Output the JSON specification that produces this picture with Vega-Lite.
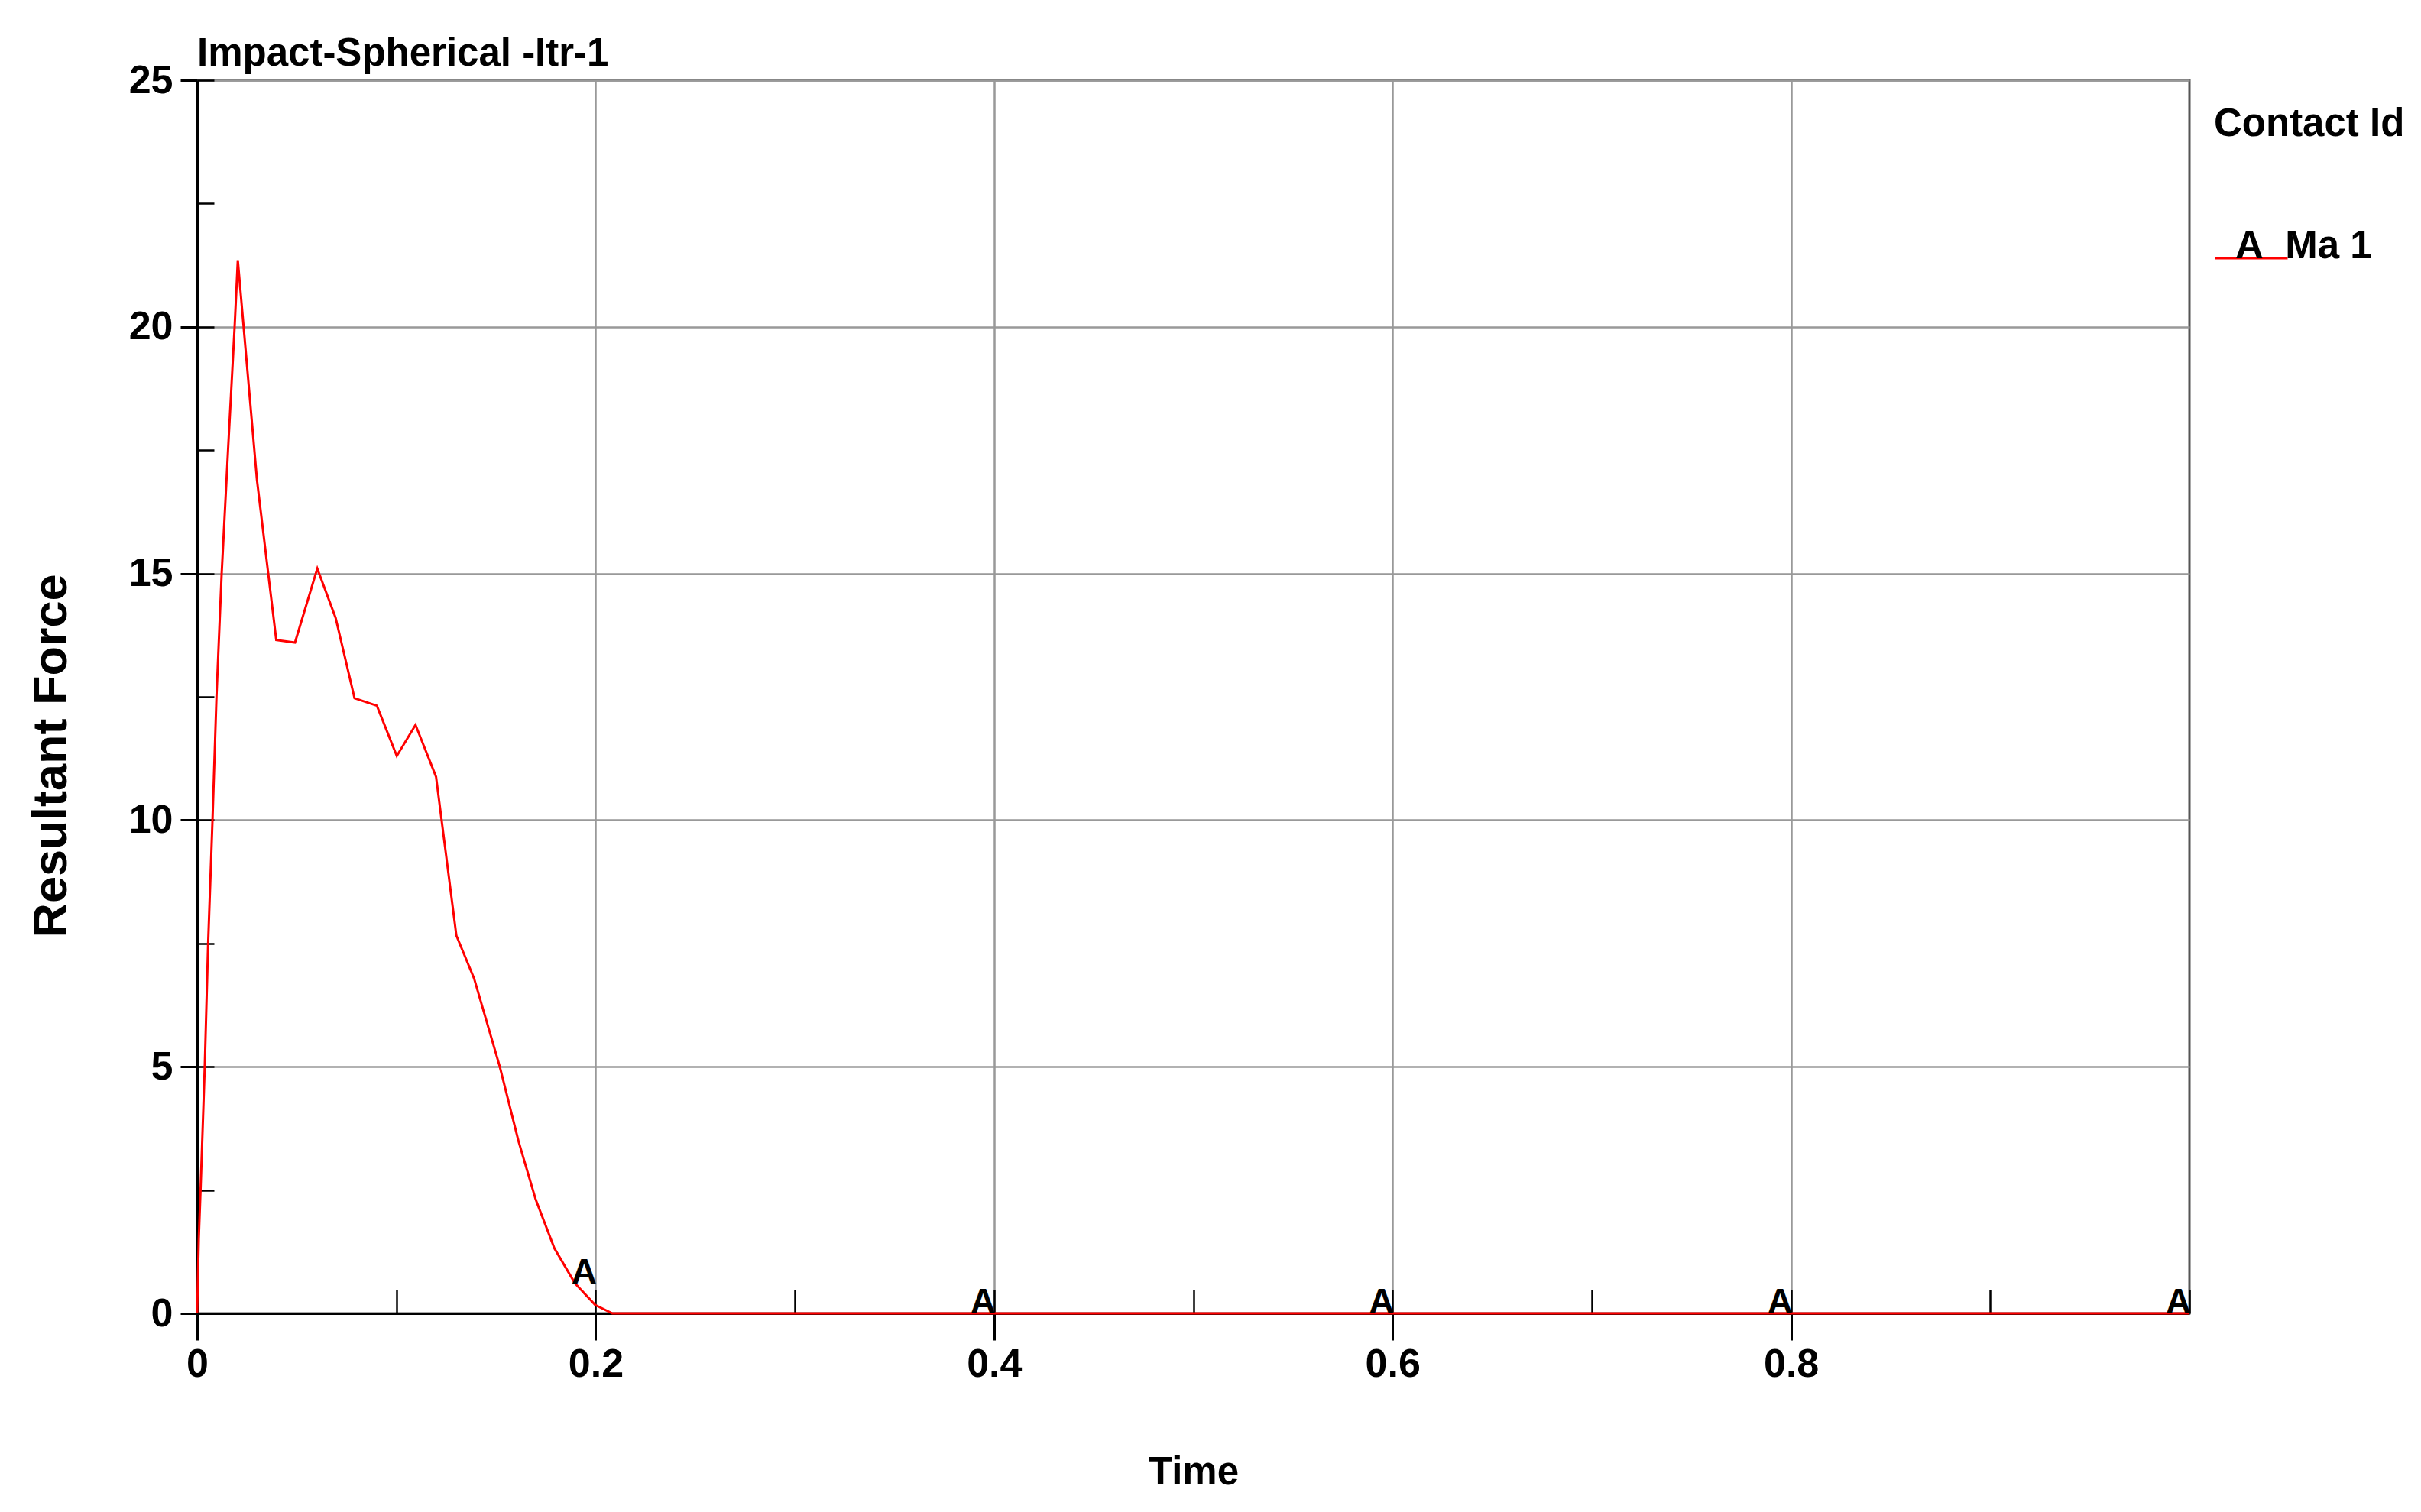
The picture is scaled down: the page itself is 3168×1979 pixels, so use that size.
{
  "$schema": "https://vega.github.io/schema/vega-lite/v6.json",
  "width": 2607,
  "height": 1614,
  "autosize": {"type": "none"},
  "padding": {"left": 258, "top": 105, "right": 303, "bottom": 260},
  "background": "white",
  "config": {
    "view": {"stroke": "#555555", "strokeWidth": 3},
    "font": "Liberation Sans, sans-serif"
  },
  "title": {
    "text": "Impact-Spherical -Itr-1",
    "anchor": "start",
    "frame": "group",
    "font": "Liberation Sans, sans-serif",
    "fontSize": 51,
    "fontWeight": "bold",
    "color": "black",
    "baseline": "alphabetic",
    "offset": -58
  },
  "datasets": {
    "curve": [
      {"t": 0, "F": 0, "contact": "Ma 1"},
      {"t": 0.0003, "F": 0.6, "contact": "Ma 1"},
      {"t": 0.0008, "F": 1.5, "contact": "Ma 1"},
      {"t": 0.0017, "F": 2.5, "contact": "Ma 1"},
      {"t": 0.0028, "F": 3.8, "contact": "Ma 1"},
      {"t": 0.0038, "F": 5.0, "contact": "Ma 1"},
      {"t": 0.0055, "F": 7.5, "contact": "Ma 1"},
      {"t": 0.0077, "F": 10.0, "contact": "Ma 1"},
      {"t": 0.0097, "F": 12.5, "contact": "Ma 1"},
      {"t": 0.0123, "F": 15.0, "contact": "Ma 1"},
      {"t": 0.0155, "F": 17.5, "contact": "Ma 1"},
      {"t": 0.0188, "F": 20.0, "contact": "Ma 1"},
      {"t": 0.0204, "F": 21.35, "contact": "Ma 1"},
      {"t": 0.03, "F": 16.9, "contact": "Ma 1"},
      {"t": 0.0397, "F": 13.65, "contact": "Ma 1"},
      {"t": 0.0491, "F": 13.6, "contact": "Ma 1"},
      {"t": 0.0603, "F": 15.1, "contact": "Ma 1"},
      {"t": 0.0695, "F": 14.1, "contact": "Ma 1"},
      {"t": 0.079, "F": 12.47, "contact": "Ma 1"},
      {"t": 0.0902, "F": 12.32, "contact": "Ma 1"},
      {"t": 0.1002, "F": 11.3, "contact": "Ma 1"},
      {"t": 0.1096, "F": 11.93, "contact": "Ma 1"},
      {"t": 0.1199, "F": 10.88, "contact": "Ma 1"},
      {"t": 0.1301, "F": 7.66, "contact": "Ma 1"},
      {"t": 0.139, "F": 6.79, "contact": "Ma 1"},
      {"t": 0.1519, "F": 5.0, "contact": "Ma 1"},
      {"t": 0.1613, "F": 3.49, "contact": "Ma 1"},
      {"t": 0.1699, "F": 2.31, "contact": "Ma 1"},
      {"t": 0.1793, "F": 1.32, "contact": "Ma 1"},
      {"t": 0.1896, "F": 0.61, "contact": "Ma 1"},
      {"t": 0.1998, "F": 0.17, "contact": "Ma 1"},
      {"t": 0.2084, "F": 0, "contact": "Ma 1"},
      {"t": 1.0, "F": 0, "contact": "Ma 1"}
    ],
    "markers": [
      {"t": 0.1942, "F": 0.6, "label": "A"},
      {"t": 0.3945, "F": 0, "label": "A"},
      {"t": 0.5945, "F": 0, "label": "A"},
      {"t": 0.7945, "F": 0, "label": "A"},
      {"t": 0.9945, "F": 0, "label": "A"}
    ]
  },
  "layer": [
    {
      "data": {"name": "curve"},
      "mark": {"type": "line", "strokeWidth": 3},
      "encoding": {
        "x": {
          "field": "t", "type": "quantitative",
          "scale": {"domain": [0, 1], "nice": false, "zero": false},
          "axis": {
            "orient": "bottom",
            "values": [0, 0.2, 0.4, 0.6, 0.8],
            "format": "~g",
            "tickSize": 35, "tickWidth": 3, "tickColor": "black",
            "domainColor": "black", "domainWidth": 3,
            "grid": true, "gridColor": "#999999", "gridWidth": 2.5,
            "labelFont": "Liberation Sans, sans-serif",
            "labelFontSize": 52, "labelFontWeight": "bold", "labelColor": "black",
            "labelPadding": 6, "labelFlush": false, "labelOverlap": false,
            "title": "Time",
            "titleFont": "Liberation Sans, sans-serif",
            "titleFontSize": 51, "titleFontWeight": "bold", "titleColor": "black",
            "titleBaseline": "alphabetic", "titleY": 223
          }
        },
        "y": {
          "field": "F", "type": "quantitative",
          "scale": {"domain": [0, 25], "nice": false},
          "axis": {
            "orient": "left",
            "values": [0, 5, 10, 15, 20, 25],
            "tickSize": 22, "tickWidth": 3, "tickColor": "black",
            "domainColor": "black", "domainWidth": 3,
            "grid": true, "gridColor": "#999999", "gridWidth": 2.5,
            "labelFont": "Liberation Sans, sans-serif",
            "labelFontSize": 52, "labelFontWeight": "bold", "labelColor": "black",
            "labelPadding": 10, "labelOverlap": false,
            "title": "Resultant Force",
            "titleFont": "Liberation Sans, sans-serif",
            "titleFontSize": 63, "titleFontWeight": "bold", "titleColor": "black",
            "titleAngle": -90, "titleAlign": "center", "titleBaseline": "middle",
            "titleX": -191, "titleY": 884
          }
        },
        "color": {
          "field": "contact", "type": "nominal",
          "scale": {"domain": ["Ma 1"], "range": ["#ff0000"]},
          "legend": {
            "title": "Contact Id",
            "orient": "right",
            "offset": -7,
            "padding": 33,
            "symbolType": "stroke",
            "symbolSize": 9025,
            "symbolStrokeWidth": 3,
            "labelExpr": "'A\u00a0\u00a0' + datum.label",
            "labelFont": "Liberation Sans, sans-serif",
            "labelFontSize": 51, "labelFontWeight": "bold", "labelColor": "black",
            "labelOffset": -70, "labelBaseline": "alphabetic", "labelLimit": 0,
            "titleFont": "Liberation Sans, sans-serif",
            "titleFontSize": 51, "titleFontWeight": "bold", "titleColor": "black",
            "titlePadding": 100, "titleLimit": 0
          }
        }
      }
    },
    {
      "data": {"name": "markers"},
      "mark": {
        "type": "text", "align": "center", "baseline": "alphabetic",
        "font": "Liberation Sans, sans-serif",
        "fontSize": 46, "fontWeight": "bold", "color": "black"
      },
      "encoding": {
        "x": {
          "field": "t", "type": "quantitative",
          "axis": {
            "orient": "bottom",
            "values": [0, 0.1, 0.2, 0.3, 0.4, 0.5, 0.6, 0.7, 0.8, 0.9, 1.0],
            "tickSize": -31, "tickWidth": 2.5, "tickColor": "black",
            "labels": false, "domain": false, "grid": false, "title": null
          }
        },
        "y": {
          "field": "F", "type": "quantitative",
          "axis": {
            "orient": "left",
            "values": [0, 2.5, 5, 7.5, 10, 12.5, 15, 17.5, 20, 22.5, 25],
            "tickSize": -22, "tickWidth": 2.5, "tickColor": "black",
            "labels": false, "domain": false, "grid": false, "title": null
          }
        },
        "text": {"field": "label", "type": "nominal"}
      }
    }
  ],
  "resolve": {"axis": {"x": "independent", "y": "independent"}}
}
